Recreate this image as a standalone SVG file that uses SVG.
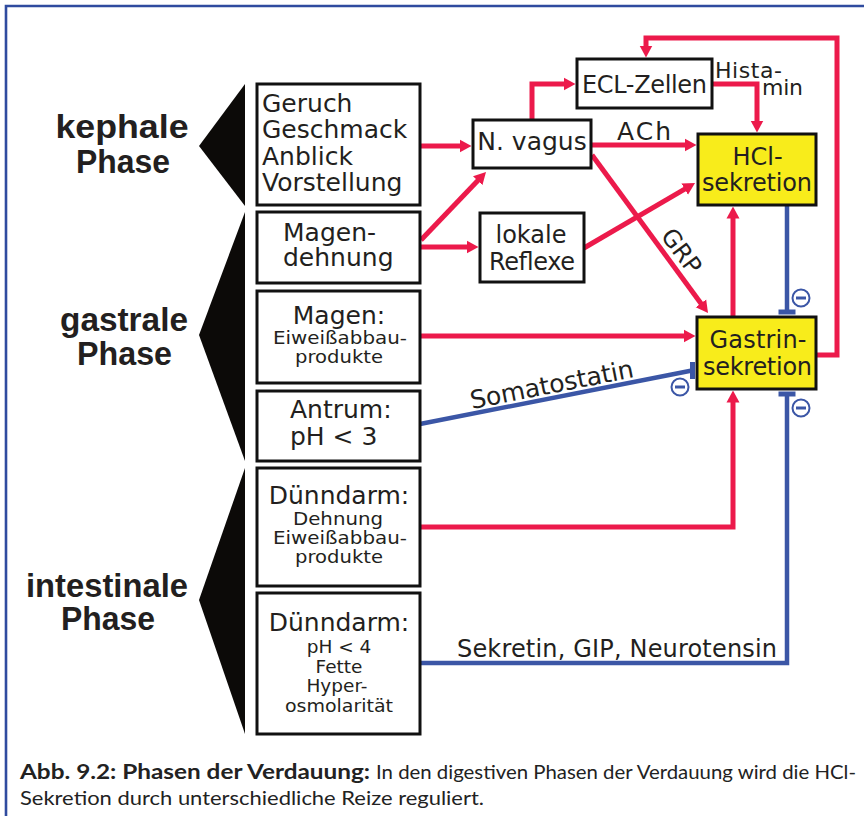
<svg xmlns="http://www.w3.org/2000/svg" width="864" height="816" viewBox="0 0 864 816">
<style>
.box{fill:#fff;stroke:#111;stroke-width:3}
.ybox{fill:#f8ec1b;stroke:#111;stroke-width:3}
.t{font-family:"DejaVu Sans",Verdana,sans-serif;font-size:25px;fill:#231f20}
.s{font-size:18.5px}
.y{font-size:24px}
.m{text-anchor:middle}
.ph{font-family:"Liberation Sans",Arial,sans-serif;font-weight:bold;font-size:34px;fill:#231f20;text-anchor:middle}
.tri{fill:#0c0a08}
.r{fill:none;stroke:#ec1a4b;stroke-width:5;stroke-linejoin:miter;marker-end:url(#ah)}
.b{fill:none;stroke:#3b56a6;stroke-width:4.5;stroke-linejoin:miter}
.bar{stroke:#3b56a6;stroke-width:5}
.minus circle{fill:none;stroke:#3b56a6;stroke-width:2}
.minus line{stroke:#3b56a6;stroke-width:3}
.cap{font-family:Lato,"Liberation Sans",sans-serif;font-size:20px;fill:#222}
</style>
<defs>
<marker id="ah" viewBox="0 -7 12 14" markerWidth="12" markerHeight="14" refX="2" refY="0" orient="auto" markerUnits="userSpaceOnUse">
<path d="M0,-6.5 L12,0 L0,6.5 z" fill="#ec1a4b"/>
</marker>
</defs>

<g id="frame" fill="none" stroke="#2f4b9f" stroke-width="2.6">
<path d="M6,816 V6 H864"/>
</g>

<g id="phase-kephal">
<polygon class="tri" points="245,84 245,206 199,146"/>
<text class="ph" x="122" y="138" textLength="133" lengthAdjust="spacingAndGlyphs">kephale</text>
<text class="ph" x="123" y="173" textLength="94" lengthAdjust="spacingAndGlyphs">Phase</text>
</g>
<g id="phase-gastral">
<polygon class="tri" points="245,212 245,461 199,335"/>
<text class="ph" x="124" y="331" textLength="128" lengthAdjust="spacingAndGlyphs">gastrale</text>
<text class="ph" x="124.5" y="365" textLength="95" lengthAdjust="spacingAndGlyphs">Phase</text>
</g>
<g id="phase-intestinal">
<polygon class="tri" points="245,468 245,734 199,600"/>
<text class="ph" x="107" y="597" textLength="162" lengthAdjust="spacingAndGlyphs">intestinale</text>
<text class="ph" x="108" y="630" textLength="94" lengthAdjust="spacingAndGlyphs">Phase</text>
</g>

<g id="connectors">
<path class="r" d="M420,146 H461.5"/>
<path class="r" d="M421,240 L479.1,179.2"/>
<path class="r" d="M420,247 H468.5"/>
<path class="r" d="M584,248 L686.4,188.1"/>
<path class="r" d="M591,145 H686.5"/>
<path class="r" d="M532,120 V84 H565.5"/>
<path class="r" d="M712,84 H757 V122.5"/>
<path class="r" d="M592,155 L702.1,304.9"/>
<path class="r" d="M420,336 H685.5"/>
<path class="r" d="M733,317 V216.5"/>
<path class="r" d="M816,355 H837 V38 H646 V47.5"/>
<path class="r" d="M420,527 H733 V400.5"/>
<path class="b" d="M787,205 V312"/>
<line class="bar" x1="778.5" y1="312" x2="795.5" y2="312"/>
<path class="b" d="M420,424 L692,370.5"/>
<line class="bar" x1="692.5" y1="362" x2="692.5" y2="379"/>
<path class="b" d="M420,663 H787 V394"/>
<line class="bar" x1="778.5" y1="394" x2="795.5" y2="394"/>
<g class="minus"><circle cx="801" cy="298" r="8.5"/><line x1="796" y1="298" x2="806" y2="298"/></g>
<g class="minus"><circle cx="680" cy="387" r="8.5"/><line x1="675" y1="387" x2="685" y2="387"/></g>
<g class="minus"><circle cx="801" cy="408" r="8.5"/><line x1="796" y1="408" x2="806" y2="408"/></g>
<text class="t" x="617" y="140" textLength="54">ACh</text>
<text class="t" x="715" y="78" style="font-size:22px" textLength="67">Hista-</text>
<text class="t" x="762" y="95" style="font-size:22px" textLength="41">min</text>
<text class="t y" x="660" y="236" transform="rotate(53.5 660 236)">GRP</text>
<text class="t" x="472" y="409" transform="rotate(-11.1 472 409)" textLength="166">Somatostatin</text>
<text class="t y" x="457" y="657" textLength="320">Sekretin, GIP, Neurotensin</text>
</g>

<g id="box-geruch">
<rect class="box" x="257" y="84" width="163" height="121"/>
<text class="t" x="262" y="112">Geruch</text>
<text class="t" x="262" y="138">Geschmack</text>
<text class="t" x="262" y="165">Anblick</text>
<text class="t" x="262" y="191">Vorstellung</text>
</g>
<g id="box-magendehnung">
<rect class="box" x="257" y="212" width="163" height="71"/>
<text class="t" x="283" y="241">Magen-</text>
<text class="t" x="283" y="266">dehnung</text>
</g>
<g id="box-magen">
<rect class="box" x="257" y="291" width="163" height="92"/>
<text class="t m" x="339" y="324">Magen:</text>
<text class="t s m" x="340" y="344" textLength="134" lengthAdjust="spacingAndGlyphs">Eiweißabbau-</text>
<text class="t s m" x="339" y="363" textLength="88" lengthAdjust="spacingAndGlyphs">produkte</text>
</g>
<g id="box-antrum">
<rect class="box" x="257" y="391" width="163" height="70"/>
<text class="t" x="290" y="418">Antrum:</text>
<text class="t" x="290" y="445">pH &lt; 3</text>
</g>
<g id="box-duenndarm1">
<rect class="box" x="257" y="468" width="163" height="118"/>
<text class="t m" x="339" y="504">Dünndarm:</text>
<text class="t s m" x="338" y="525" textLength="90" lengthAdjust="spacingAndGlyphs">Dehnung</text>
<text class="t s m" x="340" y="544" textLength="134" lengthAdjust="spacingAndGlyphs">Eiweißabbau-</text>
<text class="t s m" x="339" y="563" textLength="88" lengthAdjust="spacingAndGlyphs">produkte</text>
</g>
<g id="box-duenndarm2">
<rect class="box" x="257" y="593" width="163" height="141"/>
<text class="t m" x="339" y="631">Dünndarm:</text>
<text class="t s m" x="339" y="653">pH &lt; 4</text>
<text class="t s m" x="339" y="673">Fette</text>
<text class="t s m" x="337" y="692">Hyper-</text>
<text class="t s m" x="339" y="712" textLength="108" lengthAdjust="spacingAndGlyphs">osmolarität</text>
</g>
<g id="node-vagus">
<rect class="box" x="473" y="120" width="118" height="48"/>
<text class="t m" x="532" y="150">N. vagus</text>
</g>
<g id="node-ecl">
<rect class="box" x="577" y="59" width="135" height="49"/>
<text class="t y m" x="644.5" y="93" textLength="125">ECL-Zellen</text>
</g>
<g id="node-lokale">
<rect class="box" x="480" y="213" width="104" height="69"/>
<text class="t y m" x="531" y="243">lokale</text>
<text class="t y m" x="532" y="270" textLength="86">Reflexe</text>
</g>
<g id="node-hcl">
<rect class="ybox" x="698" y="134" width="118" height="71"/>
<text class="t y m" x="757.5" y="165">HCl-</text>
<text class="t y m" x="757" y="191" textLength="110">sekretion</text>
</g>
<g id="node-gastrin">
<rect class="ybox" x="697" y="317" width="119" height="72"/>
<text class="t y m" x="758" y="348" textLength="97">Gastrin-</text>
<text class="t y m" x="757.5" y="375" textLength="109">sekretion</text>
</g>

<g id="caption">
<text class="cap" x="20" y="779" font-weight="bold" textLength="350" lengthAdjust="spacingAndGlyphs">Abb. 9.2: Phasen der Verdauung:</text>
<text class="cap" x="376" y="779" textLength="480" lengthAdjust="spacingAndGlyphs">In den digestiven Phasen der Verdauung wird die HCl-</text>
<text class="cap" x="20" y="805" textLength="464" lengthAdjust="spacingAndGlyphs">Sekretion durch unterschiedliche Reize reguliert.</text>
</g>
</svg>
